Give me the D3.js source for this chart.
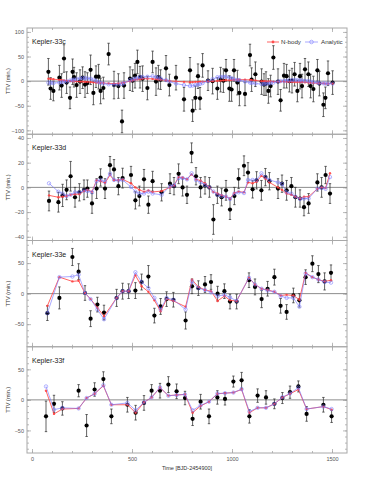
<!DOCTYPE html>
<html lang="en">
<head>
<meta charset="utf-8">
<title>Kepler-33 TTVs</title>
<script src="https://d3js.org/d3.v7.min.js"></script>
<style>
    body { margin: 0; background: #fff; }
    text { font-family: "Liberation Sans", Arial, sans-serif; }
    .frame { fill: none; stroke: #a8a8a8; stroke-width: 1; }
    .axis line { stroke: #a8a8a8; stroke-width: 0.8; }
    .axis path { display: none; }
    .axis text { fill: #555; font-size: 5.5px; }
    .zero { stroke: #8c8c8c; stroke-width: 1; }
    .err { stroke: #3a3a3a; stroke-width: 0.8; }
    .obs { fill: #000; }
    .nbody { fill: none; stroke: rgb(255,60,60); stroke-width: 1; stroke-opacity: 0.8; }
    .nbodyPt { fill: rgb(255,60,60); fill-opacity: 0.85; }
    .analytic { fill: none; stroke: rgb(120,120,255); stroke-width: 0.9; stroke-opacity: 0.7; }
    .analyticPt { fill: none; stroke: rgb(120,120,255); stroke-width: 0.7; stroke-opacity: 0.8; }
    .label { fill: #222; font-size: 7px; }
    .title { fill: #333; font-size: 5.5px; }
</style>
</head>
<body>
<script>

    //Width and height
    var w = 374;
    var h = 481;
    var x0 = 27, x1 = 347, top0 = 28, ph = 106.25;

    // ---- Kepler-33c ----
    var tC = [82,93,107,137,148,160,173,190,203,210,223,240,253,265,277,293,307,320,333,343,357,383,410,432,450,460,490,503,515,527,540,553,577,603,620,632,643,670,687,720,
        760,790,803,817,830,840,853,880,903,927,943,957,970,987,998,1010,1027,1037,1065,1090,1098,1117,1148,1160,1170,1182,1193,1207,1230,1243,1260,1273,1287,1300,1313,1327,1340,1350,1365,1382,1393,1407,1427,1437,1457,1467,1480,1503];
    var ttvC = [19,-15,-20,7,-9,46,-3,-34,19,8,-8,-1,7,-7,-4,23,-24,9,9,-20,-14,55,-8,-10,-82,-9,5,1,11,39,8,5,-14,39,-1,8,3,26,-8,7,
        -37,22,-60,-34,10,-35,32,1,0,-15,3,1,22,-15,-17,22,-3,-24,-26,53,3,14,-1,-7,-5,-20,-10,48,-1,-39,11,10,0,1,14,-20,10,-10,24,14,-10,-16,22,-5,-48,-34,16,-3];
    var errC = [27,22,20,25,24,28,22,22,26,20,25,24,22,26,21,30,24,22,25,26,22,22,28,25,23,26,24,22,25,24,22,26,24,22,28,24,20,26,22,25,
        24,26,22,24,25,22,24,20,26,22,25,24,22,26,24,22,25,26,24,22,24,25,26,22,24,25,22,24,26,22,25,24,22,25,24,22,26,24,22,25,24,26,22,25,24,22,25,24];
    var nbC = [5,4.5,4,2.5,2,1.5,1,0.5,0,0,-0.5,-1,-1,-1.5,-1.5,-2,-2.5,-3,-3,-3.5,-4,-4.5,-5,-4.5,-3.5,-3,0,1.5,3,3.5,4,5,5,4.5,4,3.5,3,1.5,0.5,-0.5,
        -1.5,-2,-2,-1.5,-1.5,-1,-1,-0.5,0,0.5,1,1.5,2,2,2.5,2.5,3,3,3,2.5,2,1.5,0,0,-0.5,-0.5,-0.5,-1,-1,-1,-1,-1.5,-1.5,-1.5,-2,-2,-2,-2,-2.5,-3,-3.5,-4,-4,-4.5,-4.5,-5,-5,-5];
    var anC = [-3,-3.5,-4,-3,-2,-1,-0.5,1,2.5,3,4,5.5,6,6,5.5,5,3,0.5,-2,-3.5,-5,-6.5,-7,-6.5,-6,-4,2,3.5,5,6.5,8,8.5,9,10,8,7,5.5,2,-1,-5,
        -8,-10,-9,-8,-7,-6,-4,0,4,8,8.5,9,9,7,6,4,2.5,2,-1,-3,-3.5,-5,-6,-5.5,-5,-5,-4,-3,-1,0,0.5,1,1.5,2,2,2,1.5,1,0.5,0,-1,-2,-3,-4,-4.5,-5,-5,-5];

    // ---- Kepler-33d ----
    var tD = [85,132,153,173,193,215,237,260,277,300,323,343,365,390,410,432,453,495,517,537,560,582,603,648,690,710,733,753,775,798,
        820,843,865,887,907,927,948,970,990,1012,1033,1060,1080,1103,1123,1147,1167,1187,1230,1250,1273,1297,1317,1340,1360,1383,1427,1448,1468,1490];
    var ttvD = [-11,-12,-6.5,-2,9,-8,-4,-2,-1,-13,-1,8,-1,18,14.5,1,7.5,10,-10.5,-7,6.5,-14,5,-4,3,1,11,0,-6,28,
        9,0,1.6,0,-26,-6,-8,-2.4,-18,-7,7,17.5,12,-1.6,5.7,-2.4,8.3,5,-1,3,-2.4,1,-8,-9,-16,-13,4,0,10,-5];
    var errD = [8,8,9,8,12,8,7,8,7,8,8,7,8,7,8,7,8,7,7,8,8,7,8,7,8,7,8,7,7,8,
        7,8,7,8,12,7,7,8,8,7,8,8,8,7,7,8,7,7,8,7,8,7,8,7,7,8,7,8,7,8];
    var nbD = [-6.5,-8,-7.5,-7,-6,-5.5,-5.5,-3,-2,-3.5,5.8,5,3.5,10,5.8,5.8,6.5,3.3,0,-2,-3.5,-2.5,-3.7,-3,0,1.6,8.3,8,6.6,10.5,
        6.6,5.4,3.3,0,-3.7,-5,-6.3,-7.5,-9,-4.6,-3.4,-4,4,3.3,4.5,9.3,7,4,0,-2,-5,-6,-7.5,-9,-7.5,-7.5,-1.2,0,-0.5,11.4];
    var anD = [3.3,-3.5,-5,-7,-6,-4,-4,-2.6,-3,-4,5,6,4.5,11,6,5.5,6,0.3,-3.5,-5,-5,-3.5,-5,-6,1,1.6,7.5,7.5,6.5,11.4,
        6,4,2,0,-3.4,-6,-7,-7.5,-9.4,-5,-4,-4.6,6,6,6,11.4,8.3,6,4,2.7,-4,-5,-7.5,-9.4,-9,-9,-1,-0.5,-1.2,8.3];

    // ---- Kepler-33e ----
    var tE = [77,137,202,233,265,293,327,360,423,453,483,517,548,582,612,643,673,707,768,800,
        832,865,895,928,962,990,1023,1085,1115,1148,1178,1212,1243,1273,1307,1337,1368,1402,1432,1463,1495];
    var ttvE = [-32,-7,60,36,1,-41,-18,-31,-7,4,4,5,19,28,-36,-21,-9,-10,-44,12,
        9,15,19,0,4,-13,-13,22,11,-9,8,27,-20,-30,-3,-11,27,49,32,20,34];
    var errE = [12,18,14,13,12,13,12,12,14,13,12,13,13,18,12,13,12,12,14,12,
        12,13,12,12,12,12,12,12,13,14,12,13,12,12,12,11,12,13,14,14,13];
    var nbE = [-20,27,20,21,1,-9,-23,-37,-7,4,4,30,12,3,-11,-29,-9,-12,-21.5,23,
        11,6,4,-12,-4,-11,-12,26,15,8,6,3,-3,-2,-3,-10,34,27,23,20,22];
    var anE = [-32,27,28,31,1,-9,-26,-42,-7,4,4,35,19,9,-7,-26,-7,-10,-26,20,
        9,6,2,-4,-2,-6,-12,26,15,8,5,3,-4,-7,-7,-21.5,33,27,23,19,18];

    // ---- Kepler-33f ----
    var tF = [70,110,152,233,273,313,357,397,477,518,560,598,640,682,723,765,803,843,885,927,
        965,1007,1048,1087,1128,1170,1212,1252,1290,1332,1373,1457,1498];
    var ttvF = [-27,-6.5,-14,15,-42,17,34,-27,-8,-21,-5,15,15,25,14,3,-31,-3,-27,4,
        1.6,30,32,-27,7,4,-6.5,3,12.6,22,-23,-8,-27];
    var errF = [25,14,11,10,18,11,12,12,12,12,12,10,12,13,12,11,11,12,12,11,
        10,9,13,11,11,11,8,9,10,9,12,12,10];
    var nbF = [15,-23,-15,-14,3,10,23,-8,-8,-21,-4,4,20,7,8,9,-21,-10,-3,10,
        11,12,17,-21,-13,-13,-6.5,4,10,17,-15,-11,-16];
    var anF = [22,-16,-13,-14,3,10,24,-8,-5,-17,-4,4,20.5,6.7,7.8,9,-17,-9,-3,10.4,
        11,12,17.6,-19,-13,-13,-6.5,4.4,10.4,20,-15,-11,-15];

    var names = ["Kepler-33c", "Kepler-33d", "Kepler-33e", "Kepler-33f"];
    var limits = [108, 43, 87, 87];
    var yMajor = [[-100,-50,0,50,100], [-40,-20,0,20,40], [-50,0,50], [-50,0,50]];
    var yStep = [10, 5, 10, 10];
    var xMajor = [0, 500, 1000, 1500];
    var xMinor = d3.range(0, 1600, 100);

    var panels = [
        { t: tC, v: ttvC, e: errC, nb: nbC, an: anC },
        { t: tD, v: ttvD, e: errD, nb: nbD, an: anD },
        { t: tE, v: ttvE, e: errE, nb: nbE, an: anE },
        { t: tF, v: ttvF, e: errF, nb: nbF, an: anF }
    ];

    var x = d3.scaleLinear().domain([-25, 1575]).range([x0, x1]);

    var svg = d3.select("body")
        .append("svg")
        .attr("width", w)
        .attr("height", h);

    panels.forEach(function (p, i) {
        var lim = limits[i];
        var y = d3.scaleLinear().domain([-lim, lim]).range([ph, 0]);
        var g = svg.append("g").attr("transform", "translate(0," + (top0 + i * ph) + ")");
        var yMinor = d3.range(Math.ceil(-lim / yStep[i]) * yStep[i], lim, yStep[i]);

        // ticks, all four sides, pointing inwards
        g.append("g").attr("class", "axis").attr("transform", "translate(0," + ph + ")")
            .call(d3.axisBottom(x).tickValues(xMinor).tickSize(-2).tickSizeOuter(0).tickFormat(""));
        g.append("g").attr("class", "axis").attr("transform", "translate(0," + ph + ")")
            .call(d3.axisBottom(x).tickValues(xMajor).tickSize(-4).tickSizeOuter(0).tickPadding(4)
                .tickFormat(i === 3 ? d3.format("d") : ""));
        g.append("g").attr("class", "axis")
            .call(d3.axisTop(x).tickValues(xMinor).tickSize(-2).tickSizeOuter(0).tickFormat(""));
        g.append("g").attr("class", "axis")
            .call(d3.axisTop(x).tickValues(xMajor).tickSize(-4).tickSizeOuter(0).tickFormat(""));

        g.append("g").attr("class", "axis").attr("transform", "translate(" + x0 + ",0)")
            .call(d3.axisLeft(y).tickValues(yMinor).tickSize(-2).tickSizeOuter(0).tickFormat(""));
        g.append("g").attr("class", "axis").attr("transform", "translate(" + x0 + ",0)")
            .call(d3.axisLeft(y).tickValues(yMajor[i]).tickSize(-4).tickSizeOuter(0).tickPadding(3).tickFormat(d3.format("d")));
        g.append("g").attr("class", "axis").attr("transform", "translate(" + x1 + ",0)")
            .call(d3.axisRight(y).tickValues(yMinor).tickSize(-2).tickSizeOuter(0).tickFormat(""));
        g.append("g").attr("class", "axis").attr("transform", "translate(" + x1 + ",0)")
            .call(d3.axisRight(y).tickValues(yMajor[i]).tickSize(-4).tickSizeOuter(0).tickFormat(""));

        g.append("rect").attr("class", "frame")
            .attr("x", x0).attr("y", 0).attr("width", x1 - x0).attr("height", ph);

        g.append("line").attr("class", "zero")
            .attr("x1", x0).attr("x2", x1).attr("y1", y(0)).attr("y2", y(0));

        // observed TTVs with error bars
        var idx = d3.range(p.t.length);
        g.selectAll(".err").data(idx).enter().append("path")
            .attr("class", "err")
            .attr("d", function (k) {
                var cx = x(p.t[k]), ya = y(p.v[k] + p.e[k]), yb = y(p.v[k] - p.e[k]);
                return "M" + cx + "," + ya + "V" + yb +
                    "M" + (cx - 1.2) + "," + ya + "H" + (cx + 1.2) +
                    "M" + (cx - 1.2) + "," + yb + "H" + (cx + 1.2);
            });
        g.selectAll(".obs").data(idx).enter().append("circle")
            .attr("class", "obs")
            .attr("cx", function (k) { return x(p.t[k]); })
            .attr("cy", function (k) { return y(p.v[k]); })
            .attr("r", 2.1);

        // N-body model
        var lineNb = d3.line().x(function (k) { return x(p.t[k]); }).y(function (k) { return y(p.nb[k]); });
        g.append("path").attr("class", "nbody").attr("d", lineNb(idx));
        g.selectAll(".nbodyPt").data(idx).enter().append("circle")
            .attr("class", "nbodyPt")
            .attr("cx", function (k) { return x(p.t[k]); })
            .attr("cy", function (k) { return y(p.nb[k]); })
            .attr("r", 1.2);

        // analytic model
        var lineAn = d3.line().x(function (k) { return x(p.t[k]); }).y(function (k) { return y(p.an[k]); });
        g.append("path").attr("class", "analytic").attr("d", lineAn(idx));
        g.selectAll(".analyticPt").data(idx).enter().append("circle")
            .attr("class", "analyticPt")
            .attr("cx", function (k) { return x(p.t[k]); })
            .attr("cy", function (k) { return y(p.an[k]); })
            .attr("r", 1.7);

        g.append("text").attr("class", "label")
            .attr("x", 32).attr("y", 16)
            .text(names[i]);

        g.append("text").attr("class", "title")
            .attr("transform", "translate(10," + (ph / 2) + ")rotate(-90)")
            .attr("text-anchor", "middle")
            .text("TTV (min.)");

        if (i === 0) {
            // legend
            var lg = g.append("g").attr("transform", "translate(0,14)");
            lg.append("line").attr("class", "nbody").attr("x1", 267).attr("x2", 279).attr("y1", 0).attr("y2", 0);
            lg.append("circle").attr("class", "nbodyPt").attr("cx", 273).attr("cy", 0).attr("r", 1.4);
            lg.append("text").attr("class", "title").attr("x", 281).attr("y", 2).style("font-size", "6.2px").text("N-body");
            lg.append("line").attr("class", "analytic").attr("x1", 305).attr("x2", 318).attr("y1", 0).attr("y2", 0);
            lg.append("circle").attr("class", "analyticPt").attr("cx", 311.5).attr("cy", 0).attr("r", 1.8);
            lg.append("text").attr("class", "title").attr("x", 321).attr("y", 2).style("font-size", "6.2px").text("Analytic");
        }
    });

    svg.append("text").attr("class", "title")
        .attr("x", (x0 + x1) / 2).attr("y", 470)
        .attr("text-anchor", "middle")
        .text("Time [BJD-2454900]");

</script>
</body>
</html>
